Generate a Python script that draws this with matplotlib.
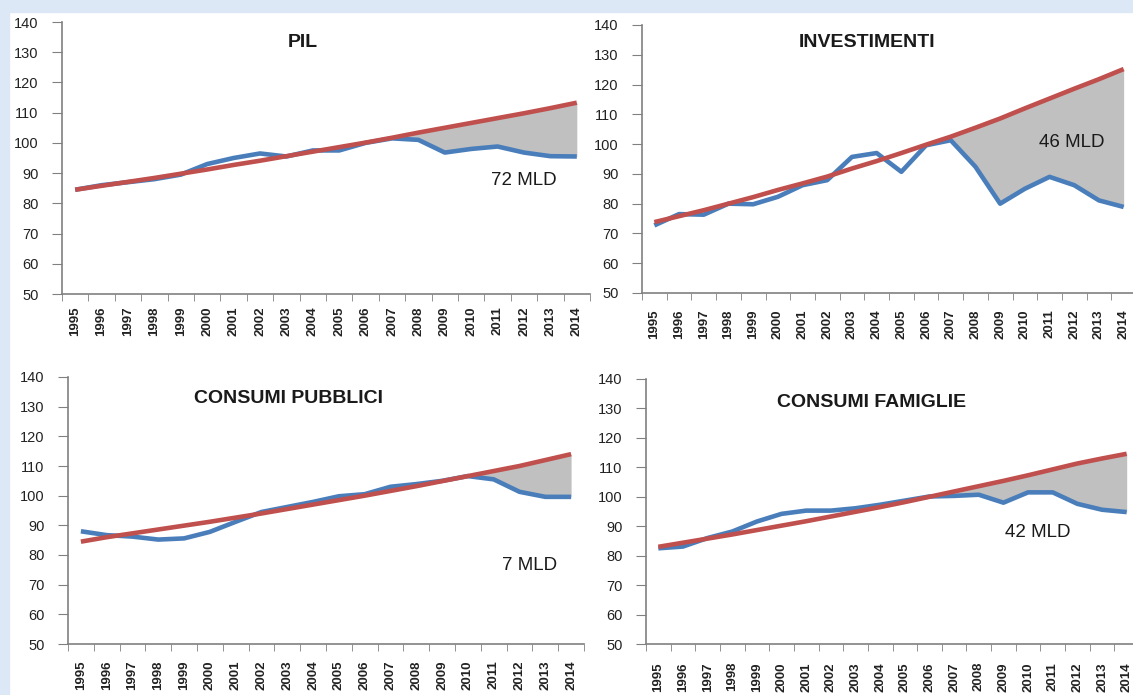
import numpy as np
import matplotlib
matplotlib.use("Agg")
import matplotlib.pyplot as plt
from matplotlib.patches import Rectangle

plt.rcParams['font.family'] = ['Liberation Sans', 'DejaVu Sans']

# dati: indici (2007 ~ 100), serie effettiva (blu) e tendenza pre-crisi (rossa)
anni = [str(a) for a in range(1995, 2015)]

pil_eff = [84.5, 86, 87, 88, 89.5, 93, 95, 96.5, 95.5, 97.5, 97.5, 100, 101.5, 101, 96.8, 98, 98.8, 96.8, 95.6, 95.5]
pil_trend = [84.5, 85.8, 87.1, 88.4, 89.8, 91.2, 92.7, 94.1, 95.6, 97.1, 98.6, 100.1, 101.7, 103.4, 105, 106.6, 108.2, 109.8, 111.5, 113.3]

inv_eff = [72.7, 76.5, 76.3, 80, 79.8, 82.3, 86.2, 87.9, 95.7, 97, 90.7, 99.6, 101.3, 92.4, 80, 85, 89, 86.2, 81.1, 78.9]
inv_trend = [73.8, 75.8, 77.8, 80, 82.2, 84.6, 86.8, 89.1, 91.8, 94.3, 97, 99.8, 102.5, 105.5, 108.6, 112, 115.3, 118.6, 121.8, 125.2]

pub_eff = [88, 86.7, 86.2, 85.2, 85.6, 87.8, 91.2, 94.5, 96.2, 97.9, 99.8, 100.5, 103, 103.9, 105, 106.6, 105.5, 101.3, 99.6, 99.6]
pub_trend = [84.5, 86, 87.3, 88.6, 89.9, 91.2, 92.6, 94, 95.5, 97, 98.5, 100, 101.6, 103.2, 104.9, 106.6, 108.3, 110, 112, 114]

fam_eff = [82.5, 83.1, 86, 88.2, 91.6, 94.2, 95.3, 95.3, 96.1, 97.3, 98.7, 100.1, 100.3, 100.7, 98, 101.5, 101.5, 97.6, 95.6, 94.8]
fam_trend = [83, 84.4, 85.8, 87.2, 88.7, 90.2, 91.7, 93.3, 94.9, 96.5, 98.2, 100, 101.8, 103.6, 105.4, 107.3, 109.3, 111.3, 113, 114.6]

titoli = ["PIL", "INVESTIMENTI", "CONSUMI PUBBLICI", "CONSUMI FAMIGLIE"]
perdite = ["72 MLD", "46 MLD", "7 MLD", "42 MLD"]
y_ticks = [50, 60, 70, 80, 90, 100, 110, 120, 130, 140]

W, H = 1133, 695
fig = plt.figure(figsize=(W / 100, H / 100), dpi=100)
fig.patch.set_facecolor("white")

# bordo azzurro dello sfondo (in alto e a sinistra)
fig.patches.append(Rectangle((0, 1 - 12 / H), 1, 12 / H, transform=fig.transFigure,
                             color="#dce8f6", zorder=0))
fig.patches.append(Rectangle((0, 0), 9 / W, 1, transform=fig.transFigure,
                             color="#dce8f6", zorder=0))

# posizione dei pannelli in pixel: sinistra, destra, alto, basso
riquadri = [(62, 590, 22, 294), (642, 1136, 25, 293), (68, 584, 377, 644), (646, 1139, 379, 644)]
pos_titoli = [(0.456, 0.923), (0.455, 0.933), (0.428, 0.918), (0.458, 0.913)]
pos_perdite = [(17.0, 87.4), (16.9, 100.5), (17.4, 76.4), (15.4, 87.9)]
pad_x = [9, 12, 12, 13]

serie = [(pil_eff, pil_trend), (inv_eff, inv_trend), (pub_eff, pub_trend), (fam_eff, fam_trend)]

x = np.arange(len(anni))
grigio = "#808080"

for i, (eff, trend) in enumerate(serie):
    l, r, t, b = riquadri[i]
    ax = fig.add_axes([l / W, 1 - b / H, (r - l) / W, (b - t) / H])
    ax.set_facecolor("none")
    eff = np.array(eff)
    trend = np.array(trend)

    ax.fill_between(x, eff, trend, where=(x >= 12) & (trend >= eff), interpolate=True,
                    color="#c0c0c0", linewidth=0, zorder=1)
    ax.plot(x, eff, color="#4a7ebb", lw=3.3, solid_capstyle="butt", zorder=2)
    ax.plot(x, trend, color="#c0504d", lw=3.3, solid_capstyle="butt", zorder=3)

    ax.set_xlim(-0.5, len(anni) - 0.5)
    ax.set_ylim(50, 140)
    ax.set_yticks(y_ticks)
    ax.set_yticklabels([str(v) for v in y_ticks], fontsize=10.5, color="#222222")
    ax.set_xticks(x)
    ax.set_xticklabels(anni, rotation=90, fontsize=9.5, fontweight="bold", color="#222222")
    ax.set_xticks(np.arange(-0.5, len(anni), 1), minor=True)
    ax.tick_params(axis="x", which="major", length=0, pad=pad_x[i])
    ax.tick_params(axis="x", which="minor", length=5, color=grigio, direction="out")
    ax.tick_params(axis="y", length=7, color=grigio, direction="out", pad=10)

    for s in ["top", "right"]:
        ax.spines[s].set_visible(False)
    for s in ["left", "bottom"]:
        ax.spines[s].set_color(grigio)
        ax.spines[s].set_linewidth(1.2)

    ax.text(pos_titoli[i][0], pos_titoli[i][1], titoli[i], transform=ax.transAxes,
            ha="center", va="center", fontsize=14, fontweight="bold", color="#1a1a1a")
    ax.text(pos_perdite[i][0], pos_perdite[i][1], perdite[i], ha="center", va="center",
            fontsize=13.5, color="#1a1a1a", zorder=4)

fig.savefig("out.png", dpi=100)
